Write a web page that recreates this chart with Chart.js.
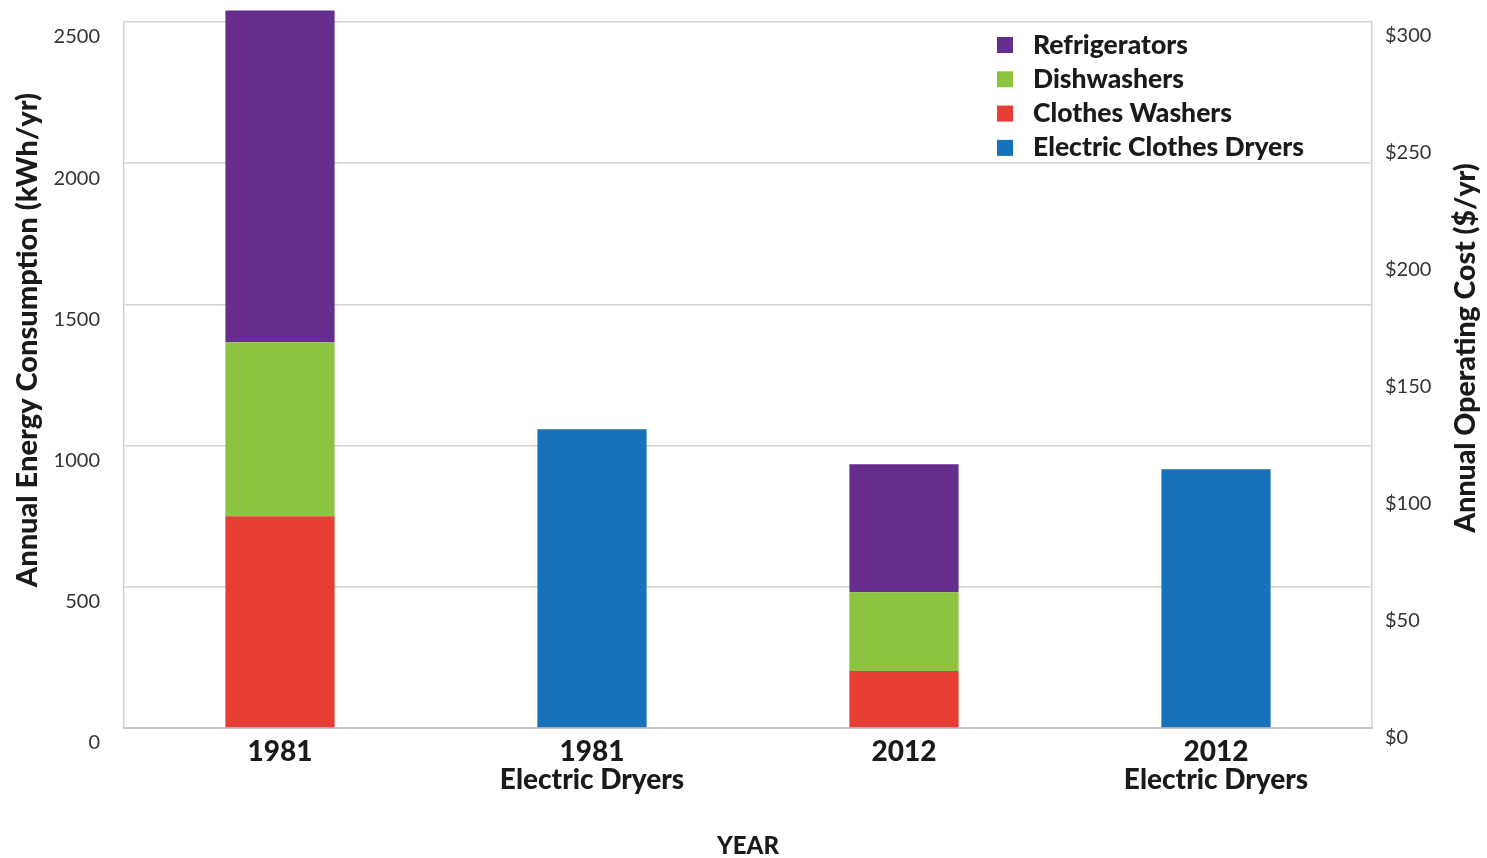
<!DOCTYPE html>
<html lang="en">
<head>
<meta charset="UTF-8">
<title>Annual appliance energy use, 1981 vs 2012</title>
<style>
  html, body { margin: 0; padding: 0; background: #fff; }
  #box { width: 1487px; height: 858px; }
</style>
</head>
<body>
<div id="box"><canvas id="grafico"></canvas></div>
<script src="https://cdn.jsdelivr.net/npm/chart.js"></script>
<script>
// data (kWh/yr)
const categories = ['1981', ['1981', 'Electric Dryers'], '2012', ['2012', 'Electric Dryers']];
const clothesWashers = [750, null, 202, null];
const dishwashers = [616, null, 279, null];
const refrigerators = [1175, null, 453, null];
const dryers = [null, 1058, null, 916];
const leftTicks = [0, 500, 1000, 1500, 2000, 2500];
const rightTicks = [0, 50, 100, 150, 200, 250, 300];

const PURPLE = '#662d8f', GREEN = '#8cc43f', RED = '#e83d35', BLUE = '#1672bb';
const GRID = '#d2d2d2';
const INK = '#1a1a1a';

Chart.defaults.font.family = 'Lato';
Chart.defaults.color = '#333';

// legend order as shown in the picture
const legendOrder = [2, 1, 0, 3];

const extras = {
  id: 'extras',
  afterDraw(chart) {
    const c = chart.ctx;
    c.save();
    // legend
    c.font = '900 26.5px Lato';
    c.textBaseline = 'middle';
    c.textAlign = 'left';
    legendOrder.forEach((di, i) => {
      const ds = chart.data.datasets[di];
      const y = 45 + i * 34.3;
      c.fillStyle = ds.backgroundColor;
      c.fillRect(997, y - 8, 16, 16);
      c.fillStyle = INK;
      c.fillText(ds.label, 1033, y);
    });
    // axis titles
    c.fillStyle = INK;
    c.textAlign = 'center';
    c.font = '900 29px Lato';
    c.translate(28, 340);
    c.rotate(-Math.PI / 2);
    c.fillText('Annual Energy Consumption (kWh/yr)', 0, 0);
    c.setTransform(1, 0, 0, 1, 0, 0);
    c.font = '900 28.5px Lato';
    c.translate(1466, 348);
    c.rotate(-Math.PI / 2);
    c.fillText('Annual Operating Cost ($/yr)', 0, 0);
    c.restore();
  }
};

new Chart(document.getElementById('grafico'), {
  type: 'bar',
  data: {
    labels: categories,
    datasets: [
      { label: 'Clothes Washers', data: clothesWashers, backgroundColor: RED },
      { label: 'Dishwashers', data: dishwashers, backgroundColor: GREEN },
      { label: 'Refrigerators', data: refrigerators, backgroundColor: PURPLE },
      { label: 'Electric Clothes Dryers', data: dryers, backgroundColor: BLUE }
    ]
  },
  options: {
    responsive: true,
    maintainAspectRatio: false,
    animation: false,
    layout: { padding: { top: 22, left: 0, right: 0, bottom: 0 } },
    datasets: { bar: { categoryPercentage: 1, barPercentage: 0.35, clip: false, borderWidth: 0 } },
    plugins: { legend: { display: false }, tooltip: { enabled: false } },
    scales: {
      x: {
        stacked: true,
        grid: { display: false, drawTicks: false },
        border: { color: '#c6c6c6', width: 2 },
        ticks: {
          color: INK,
          font: { size: 28, weight: '900', lineHeight: 1.0 },
          padding: 10,
          maxRotation: 0,
          autoSkip: false
        },
        title: {
          display: true,
          text: 'YEAR',
          color: INK,
          font: { size: 24, weight: '900', lineHeight: 1 },
          padding: { top: 0, bottom: 0 }
        },
        afterFit: s => { s.height = 130; s.paddingLeft = 0; s.paddingRight = 0; }
      },
      y: {
        stacked: true,
        min: 0,
        max: 2500,
        grid: { color: GRID, lineWidth: 1.5, drawTicks: false },
        border: { color: GRID, width: 1.5 },
        afterBuildTicks: s => { s.ticks = leftTicks.map(v => ({ value: v })); },
        ticks: { font: { size: 20 }, padding: 24, labelOffset: 15, callback: v => String(v) },
        afterFit: s => { s.width = 124; s.paddingTop = 0; s.paddingBottom = 0; }
      },
      y1: {
        position: 'right',
        min: -1.7,
        max: 300,
        grid: { drawOnChartArea: false, drawTicks: false },
        border: { color: GRID, width: 1.5 },
        afterBuildTicks: s => { s.ticks = rightTicks.map(v => ({ value: v })); },
        ticks: { font: { size: 20 }, padding: 13, labelOffset: 14, callback: v => '$' + v },
        afterFit: s => { s.width = 115; s.paddingTop = 0; s.paddingBottom = 0; }
      }
    }
  },
  plugins: [extras]
});
</script>
</body>
</html>
